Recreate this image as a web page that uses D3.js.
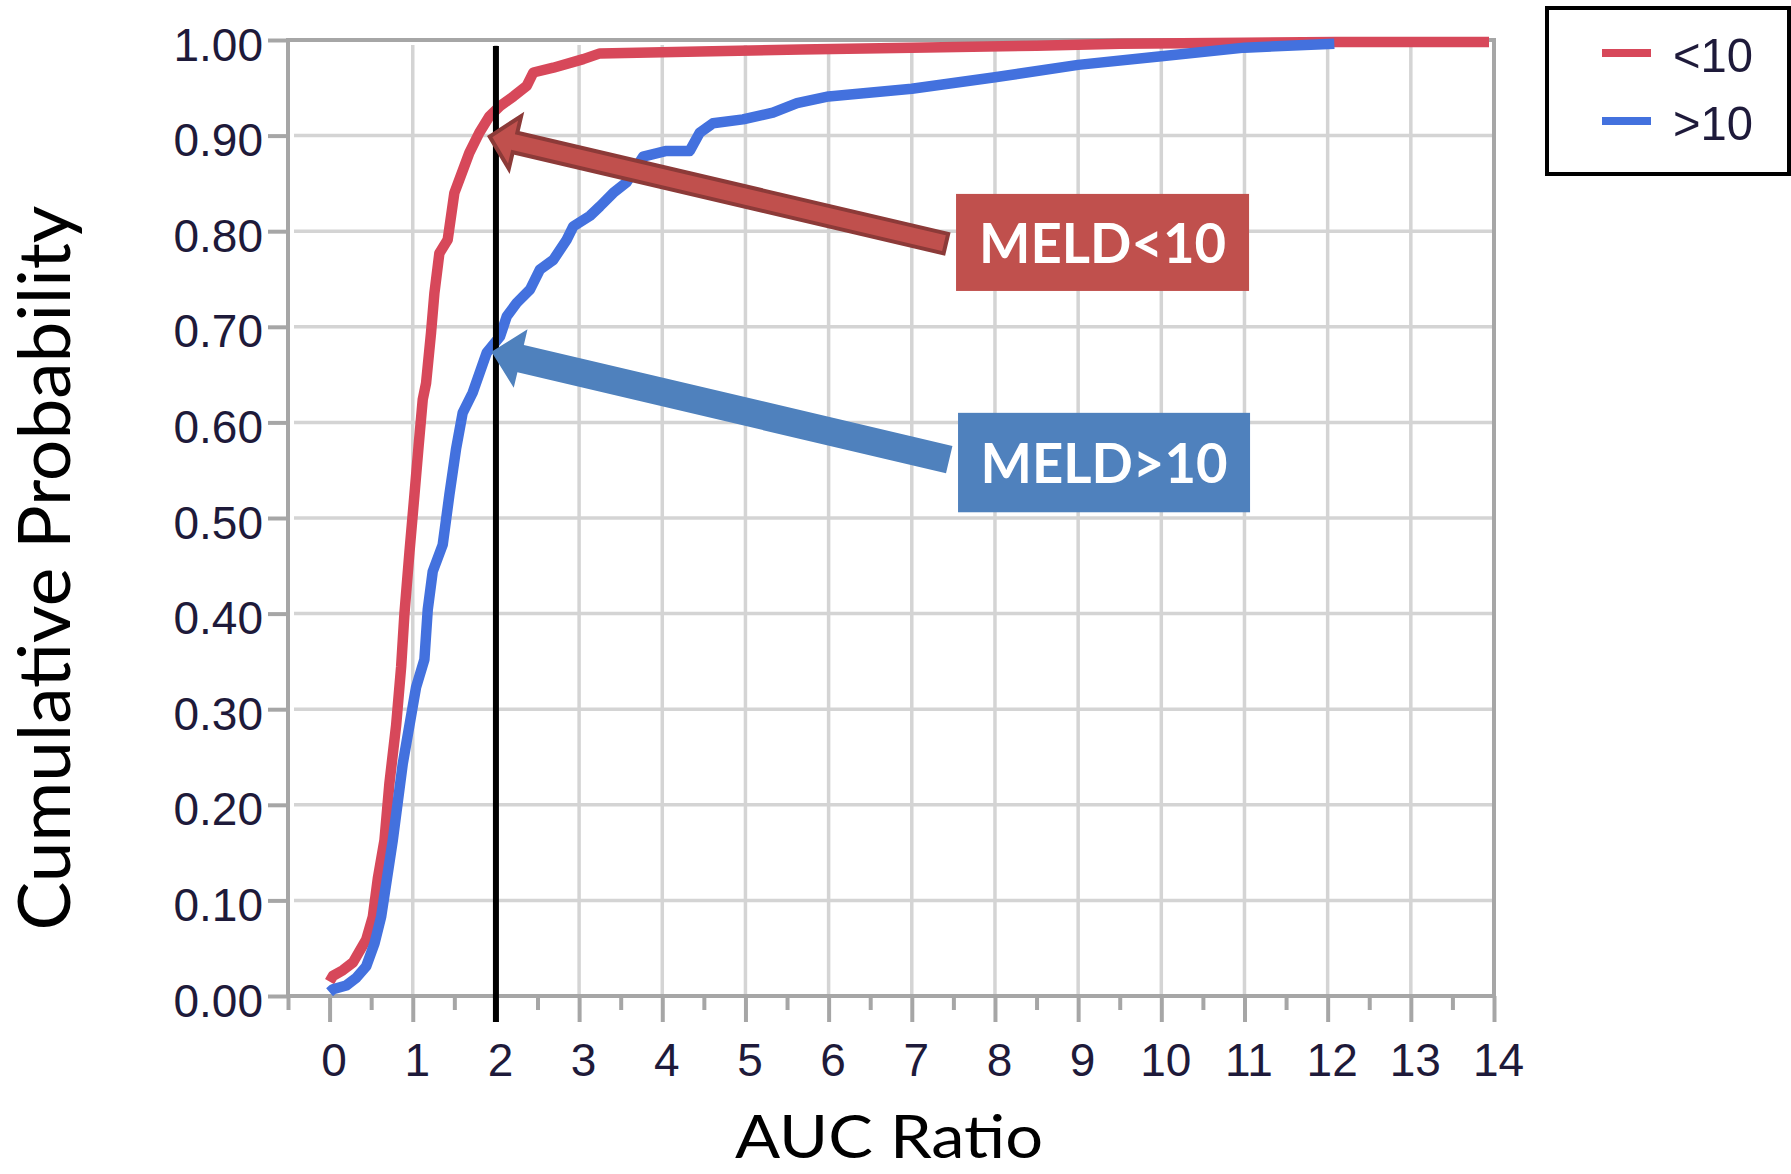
<!DOCTYPE html>
<html>
<head>
<meta charset="utf-8">
<script src="https://cdnjs.cloudflare.com/ajax/libs/d3/7.8.5/d3.min.js"></script>
<style>
  html, body { margin: 0; padding: 0; background: #fff; }
  svg { display: block; }
</style>
</head>
<body>
<script>
// ---------------- DATA ----------------
const seriesNames = ["<10", ">10"];
const seriesColors = ["#d7485a", "#4371de"];

// MELD < 10 : [AUC ratio, cumulative probability]
const meldLow = [
  [0.00, 0.015], [0.04, 0.021], [0.16, 0.027], [0.28, 0.035], [0.36, 0.047],
  [0.44, 0.059], [0.52, 0.083], [0.58, 0.123], [0.66, 0.163], [0.72, 0.223],
  [0.80, 0.283], [0.86, 0.344], [0.90, 0.400], [0.96, 0.464], [1.02, 0.524],
  [1.07, 0.575], [1.12, 0.624], [1.16, 0.641], [1.22, 0.694], [1.26, 0.735],
  [1.32, 0.777], [1.42, 0.791], [1.50, 0.840], [1.56, 0.854], [1.68, 0.882],
  [1.80, 0.903], [1.92, 0.920], [2.05, 0.931], [2.21, 0.941], [2.37, 0.952],
  [2.45, 0.966], [2.69, 0.971], [3.05, 0.980], [3.25, 0.986], [4.45, 0.988],
  [5.66, 0.990], [7.00, 0.992], [8.50, 0.994], [9.50, 0.996], [11.00, 0.997],
  [12.10, 0.998], [13.94, 0.998]
];

// MELD > 10
const meldHigh = [
  [0.00, 0.004], [0.04, 0.007], [0.20, 0.011], [0.32, 0.019], [0.44, 0.031],
  [0.54, 0.055], [0.62, 0.083], [0.69, 0.123], [0.76, 0.163], [0.82, 0.203],
  [0.88, 0.243], [0.96, 0.283], [1.04, 0.323], [1.14, 0.352], [1.18, 0.404],
  [1.24, 0.444], [1.36, 0.472], [1.44, 0.524], [1.52, 0.572], [1.60, 0.610],
  [1.72, 0.631], [1.89, 0.673], [2.05, 0.690], [2.13, 0.711], [2.25, 0.725],
  [2.41, 0.739], [2.53, 0.760], [2.69, 0.770], [2.85, 0.791], [2.93, 0.805],
  [3.13, 0.816], [3.25, 0.826], [3.41, 0.840], [3.57, 0.851], [3.77, 0.878],
  [4.05, 0.884], [4.33, 0.884], [4.45, 0.903], [4.61, 0.913], [4.97, 0.917],
  [5.33, 0.924], [5.62, 0.934], [6.00, 0.941], [7.00, 0.949], [8.00, 0.961],
  [9.00, 0.974], [10.00, 0.983], [11.00, 0.992], [12.08, 0.996]
];

const xMajorTicks = [0,1,2,3,4,5,6,7,8,9,10,11,12,13,14];
const xMinorTicks = [-0.5,0.5,1.5,2.5,3.5,4.5,5.5,6.5,7.5,8.5,9.5,10.5,11.5,12.5,13.5];
const yTicks = [0,0.1,0.2,0.3,0.4,0.5,0.6,0.7,0.8,0.9,1.0];
const refLineX = 2;

// annotations (data coordinates)
const annotations = [
  { text: "MELD<10", color: "#c0504d", stroke: "#8c3a38",
    tip: [1.925, 0.899], tail: [7.41, 0.787], box: [7.532, 11.055, 0.839, 0.7375],
    shaftW: 20, headW: 54, headL: 26 },
  { text: "MELD>10", color: "#4f81bd", stroke: null,
    tip: [1.946, 0.674], tail: [7.45, 0.561], box: [7.556, 11.067, 0.610, 0.506],
    shaftW: 28, headW: 60, headL: 30 }
];

// ---------------- CHART ----------------
const W = 1791, H = 1174;
const svg = d3.select("body").append("svg").attr("width", W).attr("height", H);

const x = d3.scaleLinear().domain([-0.5, 14]).range([288, 1494]);
const y = d3.scaleLinear().domain([0, 1]).range([996, 40]);

const gridColor = "#d4d4d4", axisColor = "#a6a6a6";
const tickFont = "'Liberation Sans', Arial, sans-serif";

// gridlines
svg.append("g").selectAll("line").data(xMajorTicks.filter(d => d > 0 && d < 14)).join("line")
  .attr("x1", d => x(d)).attr("x2", d => x(d))
  .attr("y1", y(1) + 5).attr("y2", y(0))
  .attr("stroke", gridColor).attr("stroke-width", 3.5);
svg.append("g").selectAll("line").data(yTicks.filter(d => d > 0 && d < 1)).join("line")
  .attr("x1", x(-0.5) + 6).attr("x2", x(14))
  .attr("y1", d => y(d)).attr("y2", d => y(d))
  .attr("stroke", gridColor).attr("stroke-width", 3.5);

// axes
const yAxis = svg.append("g").attr("transform", `translate(${x(-0.5)},0)`)
  .call(d3.axisLeft(y).tickValues(yTicks).tickFormat(d3.format(".2f")).tickSize(20).tickPadding(5));
yAxis.select(".domain").remove();
yAxis.selectAll(".tick line").attr("stroke", axisColor).attr("stroke-width", 4);
yAxis.selectAll(".tick text").attr("dy", 20).attr("fill", "#1e1a3a")
  .style("font-family", tickFont).style("font-size", "46px");

const xAxis = svg.append("g").attr("transform", `translate(0,${y(0)})`)
  .call(d3.axisBottom(x).tickValues(xMajorTicks).tickFormat(d3.format("d")).tickSize(26));
xAxis.select(".domain").remove();
xAxis.selectAll(".tick line").attr("stroke", axisColor).attr("stroke-width", 4);
xAxis.selectAll(".tick text").attr("y", 80).attr("dy", 0).attr("dx", 4).attr("fill", "#1e1a3a")
  .style("font-family", tickFont).style("font-size", "46px");

const xMinor = svg.append("g").attr("transform", `translate(0,${y(0)})`)
  .call(d3.axisBottom(x).tickValues(xMinorTicks).tickFormat("").tickSize(14));
xMinor.select(".domain").remove();
xMinor.selectAll(".tick line").attr("stroke", axisColor).attr("stroke-width", 4);

// frame
svg.append("rect")
  .attr("x", x(-0.5)).attr("y", y(1)).attr("width", x(14) - x(-0.5)).attr("height", y(0) - y(1))
  .attr("fill", "none").attr("stroke", axisColor).attr("stroke-width", 4);

// curves
const line = d3.line().x(d => x(d[0])).y(d => y(d[1]));
[meldLow, meldHigh].forEach((s, i) => {
  svg.append("path").datum(s).attr("d", line)
    .attr("fill", "none").attr("stroke", seriesColors[i]).attr("stroke-width", 10.5)
    .attr("stroke-linejoin", "round").attr("stroke-linecap", "butt");
});

// reference line at x = 2
svg.append("line")
  .attr("x1", x(refLineX)).attr("x2", x(refLineX))
  .attr("y1", y(1) + 6).attr("y2", y(0) + 26)
  .attr("stroke", "#000").attr("stroke-width", 6);

// arrows + labels
const labelFont = "Lato, 'Open Sans', sans-serif";
annotations.forEach(a => {
  const tx = x(a.tip[0]), ty = y(a.tip[1]);
  const bx = x(a.tail[0]), by = y(a.tail[1]);
  const dx = tx - bx, dy = ty - by, L = Math.hypot(dx, dy);
  const ux = dx / L, uy = dy / L, nx = -uy, ny = ux;
  const hb = L - a.headL; // head base distance from tail
  const p = (d, w) => [bx + ux * d + nx * w, by + uy * d + ny * w];
  const pts = [p(0, a.shaftW / 2), p(hb, a.shaftW / 2), p(hb, a.headW / 2), [tx, ty],
               p(hb, -a.headW / 2), p(hb, -a.shaftW / 2), p(0, -a.shaftW / 2)];
  svg.append("polygon").attr("points", pts.map(q => q.join(",")).join(" "))
    .attr("fill", a.color)
    .attr("stroke", a.stroke || "none").attr("stroke-width", a.stroke ? 4 : 0)
    .attr("stroke-linejoin", "miter");

  const x0 = x(a.box[0]), x1 = x(a.box[1]), y0 = y(a.box[2]), y1 = y(a.box[3]);
  svg.append("rect").attr("x", x0).attr("y", y0).attr("width", x1 - x0).attr("height", y1 - y0)
    .attr("fill", a.color);
  svg.append("text").attr("x", (x0 + x1) / 2).attr("y", (y0 + y1) / 2 + 20.5)
    .attr("text-anchor", "middle").attr("fill", "#fff")
    .style("font-family", labelFont).style("font-weight", 700).style("font-size", "56px")
    .attr("textLength", 247).attr("lengthAdjust", "spacingAndGlyphs")
    .text(a.text);
});

// axis titles
svg.append("text").attr("x", 889).attr("y", 1158).attr("text-anchor", "middle")
  .style("font-family", labelFont).style("font-size", "60px").attr("fill", "#000")
  .attr("textLength", 308).attr("lengthAdjust", "spacingAndGlyphs")
  .text("AUC Ratio");
svg.append("text").attr("transform", "translate(70,568) rotate(-90)").attr("text-anchor", "middle")
  .style("font-family", labelFont).style("font-size", "72px").attr("fill", "#000")
  .attr("textLength", 725).attr("lengthAdjust", "spacingAndGlyphs")
  .text("Cumulative Probability");

// legend
const lg = svg.append("g");
lg.append("rect").attr("x", 1547).attr("y", 8).attr("width", 242).attr("height", 166)
  .attr("fill", "#fff").attr("stroke", "#000").attr("stroke-width", 4);
seriesNames.forEach((n, i) => {
  const ly = 53 + i * 68;
  lg.append("line").attr("x1", 1602).attr("x2", 1651).attr("y1", ly).attr("y2", ly)
    .attr("stroke", seriesColors[i]).attr("stroke-width", 8);
  lg.append("text").attr("x", 1673).attr("y", ly + 19).attr("fill", "#1e1a3a")
    .style("font-family", tickFont).style("font-size", "49px")
    .attr("textLength", 80).attr("lengthAdjust", "spacingAndGlyphs")
    .text(n);
});
</script>
</body>
</html>
